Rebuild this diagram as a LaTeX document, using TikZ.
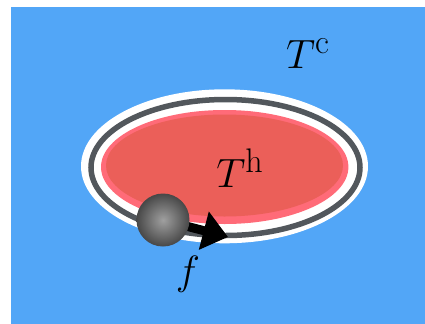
\documentclass[tikz,border=0pt]{standalone}
\usetikzlibrary{arrows.meta}
\definecolor{bgblue}{HTML}{52A6F7}
\definecolor{hotred}{HTML}{EB5F59}
\definecolor{hotpink}{HTML}{FF6B78}
\definecolor{ringgray}{HTML}{52575C}
\tikzset{lbl/.style={inner sep=0pt,anchor=base,font=\Huge,scale=1.65}}
\begin{document}
\begin{tikzpicture}[x=1bp,y=-1bp]
\useasboundingbox (0,0) rectangle (425,324);
\fill[bgblue] (11,6.5) rectangle (425,324);
\fill[white] (224.5,166.3) ellipse [x radius=143.5, y radius=77];
\draw[ringgray,line width=5.5bp] (225.5,167.5) ellipse [x radius=134.5, y radius=68];
\fill[hotpink] (224.7,167) ellipse [x radius=123.7, y radius=57];
\fill[hotred] (224.5,165.5) ellipse [x radius=118.5, y radius=51];
\coordinate (ball) at (163,220);
\coordinate (tip) at (228,237);
\draw[line width=9bp,-{Triangle[length=25bp,width=38bp]}] (ball) -- (tip);
\shade[inner color=gray!75,outer color=black!72] (ball) circle [radius=26.5];
\node[lbl] (tc) at (308,68) {$T^{\mathrm{c}}$};
\node[lbl] (th) at (240,187) {$T^{\mathrm{h}}$};
\node[lbl] (f) at (188,284) {$f$};
\end{tikzpicture}
\end{document}
